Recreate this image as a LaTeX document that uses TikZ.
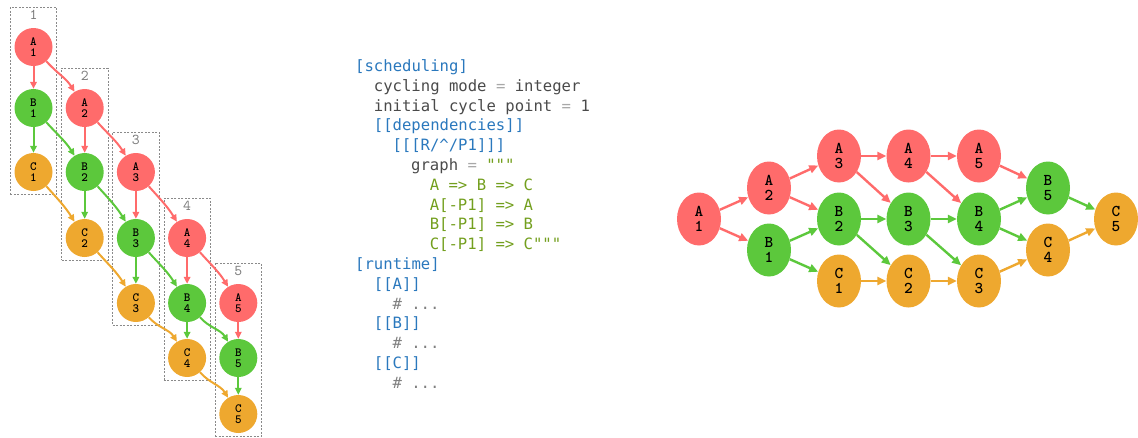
\documentclass[tikz,border=0pt]{standalone}
\usepackage{fontspec}
\setmonofont{DejaVu Sans Mono}
\newfontfamily\taskfont{lmmono10-regular.otf}[BoldFont=lmmonolt10-bold.otf]
\usetikzlibrary{arrows.meta,fit,shapes.geometric,backgrounds}

\definecolor{taskA}{HTML}{FF6B6B}
\definecolor{taskB}{HTML}{5CC83C}
\definecolor{taskC}{HTML}{EEA82F}
\definecolor{cfgblue}{HTML}{2A78BD}
\definecolor{cfgkey}{HTML}{4A4A4A}
\definecolor{cfgop}{HTML}{A8A8A8}
\definecolor{cfgstr}{HTML}{739F1E}
\definecolor{cfgcom}{HTML}{808080}
\definecolor{boxgrey}{HTML}{8A8A8A}

\tikzset{
  small/.style={circle, minimum size=38pt, inner sep=0pt, draw=none,
    font=\taskfont\bfseries\fontsize{12.5}{10.5}\selectfont, align=center, text=black},
  big/.style={ellipse, minimum width=44pt, minimum height=53pt, inner sep=0pt, draw=none,
    font=\taskfont\bfseries\fontsize{16.5}{15.5}\selectfont, align=center, text=black},
  tA/.style={fill=taskA}, tB/.style={fill=taskB}, tC/.style={fill=taskC},
  sedge/.style={line width=2pt, -{Triangle[length=7pt,width=6.5pt]}},
  bedge/.style={line width=2.4pt, -{Triangle[length=9pt,width=8pt]}},
  cyclelabel/.style={font=\taskfont\fontsize{15}{15}\selectfont, text=boxgrey!90!black, inner sep=0pt},
  cluster/.style={draw=boxgrey, line width=0.6pt, dash pattern=on 2pt off 1.5pt,
    inner xsep=4pt, inner ysep=3pt},
  code/.style={anchor=base west, inner sep=0pt, font=\ttfamily\fontsize{15.6}{18}\selectfont},
}

\newcommand{\cb}[1]{\textcolor{cfgblue}{#1}}
\newcommand{\ck}[1]{\textcolor{cfgkey}{#1}}
\newcommand{\co}[1]{\textcolor{cfgop}{#1}}
\newcommand{\cs}[1]{\textcolor{cfgstr}{#1}}
\newcommand{\cc}[1]{\textcolor{cfgcom}{#1}}

\begin{document}
\begin{tikzpicture}[x=1pt,y=1pt]
\useasboundingbox (0,0) rectangle (1138,-437);

% ---------- per-cycle view ----------
\foreach \i/\x/\ya/\yb/\yc in {1/33.5/47/108/172, 2/84.7/108/172/238, 3/135.9/172/238/303,
                                 4/187.1/238/303/358, 5/238.3/303/358/414} {
  \node[small,tA] (lA\i) at (\x,-\ya) {A\\\i};
  \node[small,tB] (lB\i) at (\x,-\yb) {B\\\i};
  \node[small,tC] (lC\i) at (\x,-\yc) {C\\\i};
  \node[cyclelabel] (lab\i) at (\x,-\ya+32) {\i};
}
\begin{scope}[on background layer]
  \foreach \i in {1,...,5} {
    \node[cluster, fit=(lab\i)(lA\i)(lC\i)] (box\i) {};
  }
\end{scope}
\foreach \i in {1,...,5} {
  \draw[sedge, taskA] (lA\i) -- (lB\i);
  \draw[sedge, taskB] (lB\i) -- (lC\i);
}
\foreach \i/\j in {1/2, 2/3, 3/4, 4/5} {
  \draw[sedge, taskA] (lA\i) to[out=-48, in=122] (lA\j);
  \draw[sedge, taskB] (lB\i) to[out=-48, in=122] (lB\j);
  \draw[sedge, taskC] (lC\i) to[out=-48, in=122] (lC\j);
}

% ---------- workflow configuration ----------
\node[code] (c1)  at (355.0,-71.5)  {\cb{[scheduling]}};
\node[code] (c2)  at (373.7,-91.3)  {\ck{cycling mode} \co{=} \ck{integer}};
\node[code] (c3)  at (373.7,-111.1) {\ck{initial cycle point} \co{=} \ck{1}};
\node[code] (c4)  at (373.7,-130.9) {\cb{[[dependencies]]}};
\node[code] (c5)  at (392.3,-150.7) {\cb{[[[R/\textasciicircum/P1]]]}};
\node[code] (c6)  at (411.0,-170.5) {\ck{graph} \co{=} \cs{"""}};
\node[code] (c7)  at (429.6,-190.3) {\cs{A => B => C}};
\node[code] (c8)  at (429.6,-210.1) {\cs{A[-P1] => A}};
\node[code] (c9)  at (429.6,-229.9) {\cs{B[-P1] => B}};
\node[code] (c10) at (429.6,-249.7) {\cs{C[-P1] => C"""}};
\node[code] (c11) at (355.0,-269.5) {\cb{[runtime]}};
\node[code] (c12) at (373.7,-289.3) {\cb{[[A]]}};
\node[code] (c13) at (392.3,-309.1) {\cc{\# ...}};
\node[code] (c14) at (373.7,-328.9) {\cb{[[B]]}};
\node[code] (c15) at (392.3,-348.7) {\cc{\# ...}};
\node[code] (c16) at (373.7,-368.5) {\cb{[[C]]}};
\node[code] (c17) at (392.3,-388.3) {\cc{\# ...}};

% ---------- combined graph ----------
\node[big,tA] (A1) at (699,-219) {A\\1};
\node[big,tA] (A2) at (769,-188) {A\\2};
\node[big,tB] (B1) at (769,-250) {B\\1};
\node[big,tA] (A3) at (839,-156) {A\\3};
\node[big,tB] (B2) at (839,-219) {B\\2};
\node[big,tC] (C1) at (839,-281) {C\\1};
\node[big,tA] (A4) at (908.5,-156) {A\\4};
\node[big,tB] (B3) at (908.5,-219) {B\\3};
\node[big,tC] (C2) at (908.5,-281) {C\\2};
\node[big,tA] (A5) at (979,-156) {A\\5};
\node[big,tB] (B4) at (979,-219) {B\\4};
\node[big,tC] (C3) at (979,-281) {C\\3};
\node[big,tB] (B5) at (1048,-188) {B\\5};
\node[big,tC] (C4) at (1048,-250) {C\\4};
\node[big,tC] (C5) at (1116,-219) {C\\5};

\foreach \s/\t in {A1/A2, A1/B1, A2/A3, A2/B2, A3/A4, A3/B3, A4/A5, A4/B4, A5/B5}
  \draw[bedge, taskA] (\s) -- (\t);
\foreach \s/\t in {B1/B2, B1/C1, B2/B3, B2/C2, B3/B4, B3/C3, B4/B5, B4/C4, B5/C5}
  \draw[bedge, taskB] (\s) -- (\t);
\foreach \s/\t in {C1/C2, C2/C3, C3/C4, C4/C5}
  \draw[bedge, taskC] (\s) -- (\t);
\end{tikzpicture}
\end{document}
